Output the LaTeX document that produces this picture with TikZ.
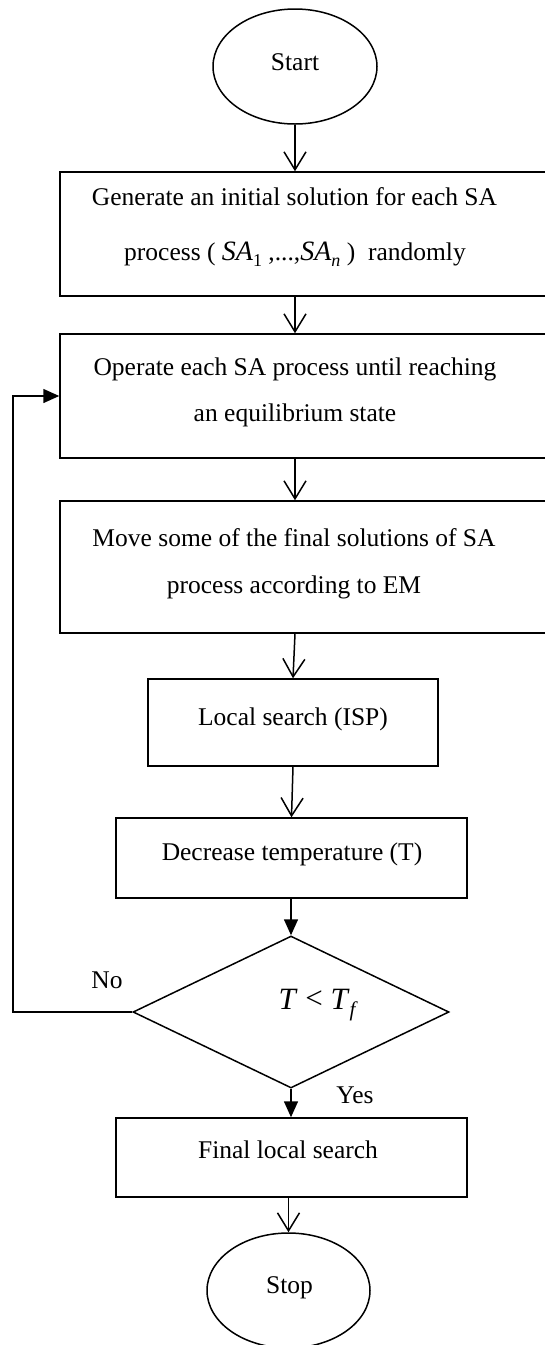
\documentclass[tikz,border=0pt]{standalone}
\usepackage{fontspec}
\setmainfont{Liberation Serif}
\usetikzlibrary{shapes.geometric,arrows.meta}
\tikzset{
  shape line/.style={draw=black, line width=1.5pt},
  boxnode/.style={shape line, rectangle, inner sep=0pt},
  ovalnode/.style={shape line, ellipse, inner sep=0pt, minimum width=164pt, minimum height=115pt},
  decnode/.style={shape line, diamond, inner sep=0pt, minimum width=316pt, minimum height=152pt},
  txt/.style={anchor=base, inner sep=0pt, font=\fontsize{25.5}{30}\selectfont},
  openarrow/.style={line width=1.5pt, -{Straight Barb[length=18pt,width=22pt,line width=1.5pt]}},
  fillarrow/.style={line width=1.5pt, -{Triangle[length=16pt,width=14pt]}},
}
\newcommand{\mth}[1]{{\fontsize{28}{30}\selectfont\itshape #1}}
\newcommand{\lowsub}[1]{\raisebox{-6pt}{\fontsize{18}{20}\selectfont #1}}
\begin{document}
\begin{tikzpicture}[x=1pt,y=-1pt]
\useasboundingbox (0,0) rectangle (545,1345);
% shapes
\node[ovalnode] (start) at (295,66.5) {};
\node[boxnode, minimum width=490pt, minimum height=124pt] (b1) at (305,234) {};
\node[boxnode, minimum width=490pt, minimum height=124pt] (b2) at (305,396) {};
\node[boxnode, minimum width=490pt, minimum height=132pt] (b3) at (305,567) {};
\node[boxnode, minimum width=290pt, minimum height=87pt] (b4) at (293,722.5) {};
\node[boxnode, minimum width=351pt, minimum height=80pt] (b5) at (291.5,858) {};
\node[decnode] (dec) at (291,1012) {};
\node[boxnode, minimum width=351pt, minimum height=79pt] (b6) at (291.5,1157.5) {};
\node[ovalnode, minimum width=163pt] (stop) at (288.5,1290.5) {};
% texts
\node[txt] (tstart) at (295,70) {Start};
\node[txt] (t1a) at (294.5,205) {Generate an initial solution for each SA};
\node[txt] (t1b) at (295,260) {process ( \mth{SA}\lowsub{1} ,...,\mth{SA}\lowsub{\itshape n} )\ \ randomly};
\node[txt] (t2a) at (295,375) {Operate each SA process until reaching};
\node[txt] (t2b) at (295,421) {an equilibrium state};
\node[txt] (t3a) at (294,546) {Move some of the final solutions of SA};
\node[txt] (t3b) at (294,593) {process according to EM};
\node[txt] (t4) at (293,725) {Local search (ISP)};
\node[txt] (t5) at (292,860) {Decrease temperature (T)};
\node[txt, font=\fontsize{31}{34}\selectfont] (tdec) at (317,1009) {\textit{T} \raisebox{1pt}{<} \textit{T}\raisebox{-7pt}{\fontsize{21}{22}\selectfont\itshape f}};
\node[txt] (tno) at (107,988) {No};
\node[txt] (tyes) at (355,1103) {Yes};
\node[txt] (t6) at (288,1158) {Final local search};
\node[txt] (tstop) at (289.5,1293) {Stop};
% connectors
\draw[openarrow] (start.south) -- (start.south |- b1.north);
\draw[openarrow] (b1.south -| start) -- (b2.north -| start);
\draw[openarrow] (b2.south -| start) -- (b3.north -| start);
\draw[openarrow] (b3.south -| start) -- (b4.north);
\draw[openarrow] (b4.south) -- (b5.north);
\draw[fillarrow] (b5.south -| dec) -- (dec.north);
\coordinate (loopc) at (13,1012);
\draw[fillarrow] (dec.west) -- (loopc) |- (b2.west);
\draw[fillarrow] (dec.south) -- (dec.south |- b6.north);
\draw[openarrow] (b6.south -| stop) -- (stop.north);
\end{tikzpicture}
\end{document}
